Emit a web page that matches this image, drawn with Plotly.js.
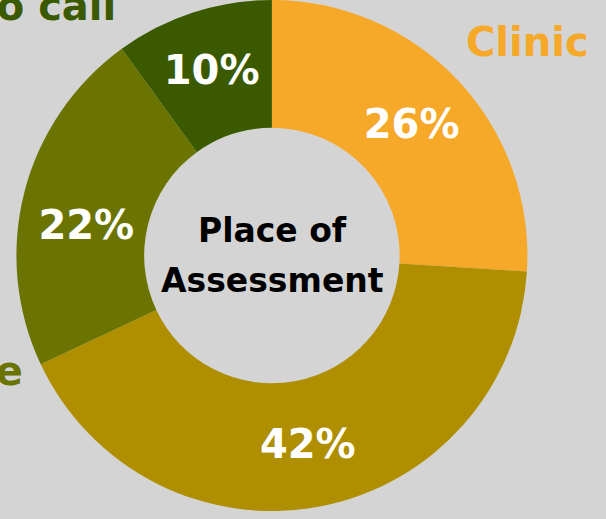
<!DOCTYPE html>
<html>
<head>
<meta charset="utf-8">
<script src="https://cdn.plot.ly/plotly-3.0.1.min.js"></script>
<style>html,body{margin:0;padding:0;background:#d4d4d4;}#chart{width:606px;height:519px;}</style>
</head>
<body>
<div id="chart"></div>
<script>
const categories = ["Clinic", "Hospital", "Home", "Video call"];
const values = [26, 42, 22, 10];
const colors = ["#F6A828", "#AF8F00", "#6B7400", "#3B5A00"];
const centerLines = ["Place of", "Assessment"];

const FONT = "DejaVu Sans, sans-serif";

const trace = {
  type: "pie",
  labels: categories,
  values: values,
  sort: false,
  direction: "clockwise",
  rotation: 0,
  hole: 0.5,
  marker: {colors: colors, line: {width: 0}},
  textinfo: "percent",
  texttemplate: ["%{percent:.0%}", "%{percent:.0%}", "<span style='font-size:22px'>&#160;</span><br>%{percent:.0%}", "%{percent:.0%}"],
  textposition: "inside",
  insidetextorientation: "horizontal",
  textfont: {family: FONT, size: 40, color: "#ffffff", weight: 700},
  showlegend: false,
  domain: {x: [0.0264, 0.871], y: [0.0154, 1]},
  hoverinfo: "label+percent"
};

const annotations = [
  {text: centerLines[0], x: 272/606, y: 1 - 230/519, xanchor: "center", yanchor: "middle"},
  {text: centerLines[1], x: 272/606, y: 1 - 280/519, xanchor: "center", yanchor: "middle"}
].map(a => Object.assign(a, {xref: "paper", yref: "paper", showarrow: false,
  font: {family: FONT, size: 33, color: "#000000", weight: 700}}));

// outside category labels (partially outside the visible frame, as in the reference)
const outside = [
  {i: 0, x: 591/606, y: 1 - 42/519},
  {i: 3, x: 118/606, y: 1 - 6/519},
  {i: 2, x: 25/606, y: 1 - 371/519}
];
outside.forEach(o => annotations.push({
  text: categories[o.i], x: o.x, y: o.y, xref: "paper", yref: "paper",
  xanchor: "right", yanchor: "middle", showarrow: false,
  font: {family: FONT, size: 40, color: colors[o.i], weight: 700}
}));

const layout = {
  width: 606, height: 519,
  margin: {l: 0, r: 0, t: 0, b: 0},
  paper_bgcolor: "#d4d4d4",
  plot_bgcolor: "#d4d4d4",
  annotations: annotations
};

Plotly.newPlot("chart", [trace], layout, {displayModeBar: false, staticPlot: true});
</script>
</body>
</html>
